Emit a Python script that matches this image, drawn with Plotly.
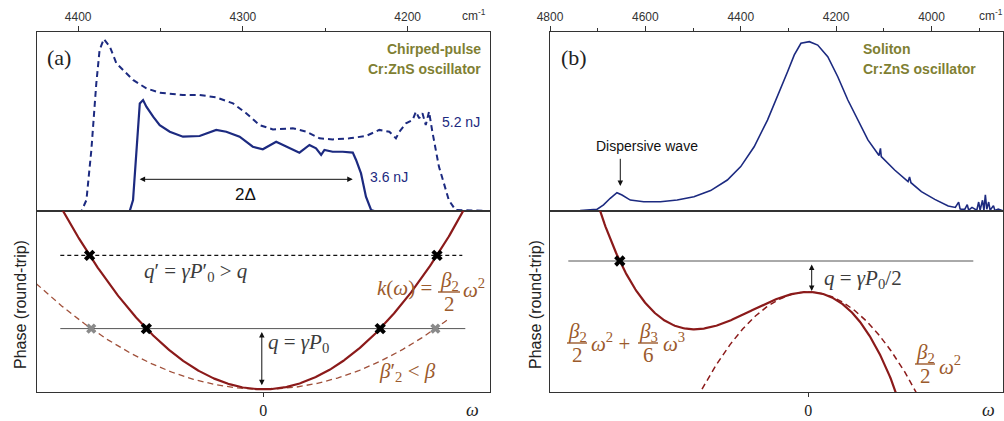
import numpy as np
import plotly.graph_objects as go

W, H = 1004, 421

# ---------------- data ----------------
# (a) chirped-pulse spectra, wavenumber (cm^-1) vs. normalised intensity
wn_a_52 = [4425, 4398, 4395, 4392, 4389, 4387, 4384.4, 4380.8, 4376.8, 4370.7, 4366.7, 4358.6,
           4350.5, 4336.4, 4326.3, 4316.2, 4306, 4298, 4289.9, 4281.8, 4269.7, 4261.6, 4253.5,
           4245.5, 4235.4, 4225.3, 4217.2, 4211.1, 4207.1, 4205, 4201, 4197, 4195, 4193, 4191,
           4189, 4187, 4185, 4183, 4181, 4178, 4175, 4171, 4150]
sp_a_52 = [0, 0, 0.061, 0.341, 0.713, 0.9, 0.961, 0.918, 0.825, 0.769, 0.732, 0.685,
           0.661, 0.648, 0.648, 0.635, 0.601, 0.546, 0.480, 0.456, 0.462, 0.443, 0.406,
           0.400, 0.406, 0.419, 0.453, 0.443, 0.406, 0.443, 0.490, 0.508, 0.555, 0.518, 0.546,
           0.480, 0.555, 0.443, 0.341, 0.248, 0.155, 0.061, 0.006, 0]
wn_a_36 = [4425, 4368.7, 4366.7, 4364.6, 4362.6, 4360.6, 4358.6, 4354.5, 4350.5, 4344.4, 4336.4,
           4326.3, 4316.2, 4310.1, 4302, 4294, 4287.9, 4279.8, 4271.7, 4265.7, 4259.6, 4255.6,
           4252.5, 4250.5, 4245.5, 4239.4, 4233.3, 4231.3, 4228.3, 4225.3, 4222.2, 4220.2, 4150]
sp_a_36 = [0, 0, 0.061, 0.341, 0.601, 0.620, 0.583, 0.527, 0.480, 0.443, 0.415,
           0.419, 0.453, 0.443, 0.415, 0.359, 0.345, 0.387, 0.350, 0.326, 0.369, 0.350,
           0.313, 0.341, 0.331, 0.331, 0.326, 0.285, 0.210, 0.080, 0.006, 0, 0]

# (b) soliton spectrum
wn_b = [4800, 4736.8, 4701.8, 4687.7, 4673.7, 4659.6, 4649, 4631.6, 4603.5, 4568.4, 4533.3,
        4498.2, 4463.2, 4428.1, 4400, 4371.9, 4343.9, 4322.8, 4301.8, 4287.7, 4273.7, 4256.1,
        4238.6, 4217.5, 4196.5, 4175.4, 4154.4, 4133.3, 4110, 4107, 4105.3, 4077.2, 4049.1,
        4046, 4043, 4021.1, 3993, 3964.9, 3950, 3943, 3940, 3936.8, 3930, 3925, 3922, 3915,
        3905, 3901, 3898, 3893, 3890, 3887, 3884, 3880, 3877, 3870, 3867, 3860, 3849]
sp_b = [0, 0.002, 0.009, 0.034, 0.071, 0.102, 0.089, 0.061, 0.052, 0.052, 0.061,
        0.080, 0.114, 0.173, 0.248, 0.359, 0.508, 0.639, 0.778, 0.872, 0.937, 0.946,
        0.927, 0.862, 0.750, 0.620, 0.508, 0.397, 0.31, 0.35, 0.304, 0.229, 0.164,
        0.19, 0.158, 0.108, 0.065, 0.028, 0.02, 0.05, 0.012, 0.009, 0.01, 0.035, 0.005, 0.02,
        0.004, 0.05, 0.005, 0.06, 0.005, 0.09, 0.01, 0.05, 0.004, 0.03, 0.003, 0.01, 0]

ticks_a = [4400, 4300, 4200]
minor_a = [4350, 4250]
ticks_b = [4800, 4600, 4400, 4200, 4000]
minor_b = [4700, 4500, 4300, 4100, 3900]

# schematic phase curves (coefficients)
b2_a = 0.444        # k(w) = beta2/2 w^2
b2p_a = 0.205       # beta2' < beta2
q_a = 0.607         # q = gamma P0
qp_a = 1.34         # q' = gamma P0'
qline_a = [-2.03, 2.02]
qpline_a = [-2.03, 1.99]
dash_a_end = 1.85

phi0_b = 1.0
b2_b = -0.86
b3_b = -0.5025
q_b = 1.31
qline_b = [-2.40, 1.65]

# ---------------- style ----------------
NAVY = "#1c2a80"
DRED = "#8b1a1a"
BROWN = "#9b5a2c"
OLIVE = "#7f7f33"
GREY = "#3c3c3c"
AXC = "#333333"
SANS = "Liberation Sans, Arial, sans-serif"
SERIF = "Liberation Serif, Times New Roman, serif"


def px(x):
    return x / W


def py(y):
    return 1 - y / H


fig = go.Figure()

# spectra
fig.add_trace(go.Scatter(x=wn_a_52, y=sp_a_52, mode="lines", xaxis="x", yaxis="y",
                         line=dict(color=NAVY, width=2, dash="6px,4px"), showlegend=False))
fig.add_trace(go.Scatter(x=wn_a_36, y=sp_a_36, mode="lines", xaxis="x", yaxis="y",
                         line=dict(color=NAVY, width=2.2), showlegend=False))
fig.add_trace(go.Scatter(x=wn_b, y=sp_b, mode="lines", xaxis="x3", yaxis="y3",
                         line=dict(color=NAVY, width=1.6), showlegend=False))

# (a) phase curves
u = np.linspace(-2.3, 2.3, 400)
ud = np.linspace(-2.27, dash_a_end, 300)
fig.add_trace(go.Scatter(x=ud, y=b2p_a * ud ** 2, mode="lines", xaxis="x2", yaxis="y2",
                         line=dict(color="#a0503a", width=1.3, dash="6px,4px"), showlegend=False))
fig.add_trace(go.Scatter(x=qline_a, y=[q_a, q_a], mode="lines", xaxis="x2", yaxis="y2",
                         line=dict(color="#555555", width=1), showlegend=False))
fig.add_trace(go.Scatter(x=qpline_a, y=[qp_a, qp_a], mode="lines", xaxis="x2", yaxis="y2",
                         line=dict(color="#111111", width=1.2, dash="4px,3px"), showlegend=False))
fig.add_trace(go.Scatter(x=u, y=b2_a * u ** 2, mode="lines", xaxis="x2", yaxis="y2",
                         line=dict(color=DRED, width=2.2), showlegend=False))
wg = np.sqrt(q_a / b2p_a)
fig.add_trace(go.Scatter(x=[-wg, wg], y=[q_a, q_a], mode="markers", xaxis="x2", yaxis="y2",
                         marker=dict(symbol="x", size=9, color="#8a8a8a"), showlegend=False))
w1 = np.sqrt(q_a / b2_a)
w2 = np.sqrt(qp_a / b2_a)
fig.add_trace(go.Scatter(x=[-w1, w1, -w2, w2], y=[q_a, q_a, qp_a, qp_a], mode="markers",
                         xaxis="x2", yaxis="y2",
                         marker=dict(symbol="x", size=10, color="black"), showlegend=False))

# (b) phase curves
ub = np.linspace(-2.3, 1.2, 400)
ubd = np.linspace(-1.2, 1.2, 300)
fig.add_trace(go.Scatter(x=ubd, y=phi0_b + b2_b * ubd ** 2, mode="lines", xaxis="x4", yaxis="y4",
                         line=dict(color=DRED, width=1.5, dash="6px,4px"), showlegend=False))
fig.add_trace(go.Scatter(x=qline_b, y=[q_b, q_b], mode="lines", xaxis="x4", yaxis="y4",
                         line=dict(color="#555555", width=1), showlegend=False))
fig.add_trace(go.Scatter(x=ub, y=phi0_b + b2_b * ub ** 2 + b3_b * ub ** 3, mode="lines",
                         xaxis="x4", yaxis="y4", line=dict(color=DRED, width=2.2), showlegend=False))
roots = np.roots([b3_b, b2_b, 0, phi0_b - q_b])
rr = [r.real for r in roots if abs(r.imag) < 1e-9 and r.real < -1.0]
fig.add_trace(go.Scatter(x=rr, y=[q_b] * len(rr), mode="markers", xaxis="x4", yaxis="y4",
                         marker=dict(symbol="x", size=10, color="black"), showlegend=False))

# ---------------- axes ----------------
XA = [px(37), px(490)]
XB = [px(550), px(1003)]
YT = [py(211), py(32)]
YB = [py(392), py(211)]
common = dict(showline=True, mirror=True, linecolor=AXC, linewidth=1.2, showgrid=False,
              zeroline=False, automargin=False)
tickfont = dict(family=SANS, size=12, color="#333333")

fig.update_layout(
    width=W, height=H, autosize=False,
    margin=dict(l=0, r=0, t=0, b=0, pad=0, autoexpand=False),
    paper_bgcolor="white", plot_bgcolor="white",
    xaxis=dict(domain=XA, anchor="y", side="top", range=[4425, 4150], tickvals=ticks_a,
               ticks="outside", ticklen=5, tickcolor=AXC, tickfont=tickfont,
               minor=dict(tickvals=minor_a, ticks="outside", ticklen=3, tickcolor=AXC),
               layer="below traces", **common),
    yaxis=dict(domain=YT, anchor="x", range=[0, 1], showticklabels=False, ticks="",
               layer="below traces", **common),
    xaxis2=dict(domain=XA, anchor="y2", range=[-2.263, 2.267], tickvals=[0], ticktext=["0"],
                ticks="outside", ticklen=4, tickcolor=AXC,
                tickfont=dict(family=SERIF, size=16, color="#222222"), **common),
    yaxis2=dict(domain=YB, anchor="x2", range=[-0.027, 1.783], showticklabels=False, ticks="",
                **common),
    xaxis3=dict(domain=XB, anchor="y3", side="top", range=[4800, 3850], tickvals=ticks_b,
                ticks="outside", ticklen=5, tickcolor=AXC, tickfont=tickfont,
                minor=dict(tickvals=minor_b, ticks="outside", ticklen=3, tickcolor=AXC),
                layer="below traces", **common),
    yaxis3=dict(domain=YT, anchor="x3", range=[0, 1], showticklabels=False, ticks="",
                layer="below traces", **common),
    xaxis4=dict(domain=XB, anchor="y4", range=[-2.583, 1.947], tickvals=[0], ticktext=["0"],
                ticks="outside", ticklen=4, tickcolor=AXC,
                tickfont=dict(family=SERIF, size=16, color="#222222"), **common),
    yaxis4=dict(domain=YB, anchor="x4", range=[0, 1.81], showticklabels=False, ticks="",
                **common),
)

# ---------------- text ----------------
ann = []


def txt(x, y, s, size=18, color=GREY, family=SERIF, xanchor="center", angle=0):
    ann.append(dict(xref="paper", yref="paper", x=px(x), y=py(y), text=s, showarrow=False,
                    xanchor=xanchor, yanchor="middle", textangle=angle,
                    font=dict(family=family, size=size, color=color)))


def frac(xc, y_bar, num, den, half, color=BROWN, size=21):
    txt(xc, y_bar - 11, num, size=size, color=color)
    txt(xc, y_bar + 12, den, size=size, color=color)
    fig.add_shape(type="line", xref="paper", yref="paper", x0=px(xc - half), x1=px(xc + half),
                  y0=py(y_bar), y1=py(y_bar), line=dict(color=color, width=1.4))


MS = 21  # math text size

# top axis units
txt(474, 15, "cm<sup>-1</sup>", size=12, color="#333333", family=SANS)
txt(991, 15, "cm<sup>-1</sup>", size=12, color="#333333", family=SANS)

# panel labels
txt(59, 57, "(a)", size=22, color="#222222")
txt(574, 57, "(b)", size=22, color="#222222")
txt(483, 49, "<b>Chirped-pulse</b>", size=14, color=OLIVE, family=SANS, xanchor="right")
txt(483, 69, "<b>Cr:ZnS oscillator</b>", size=14, color=OLIVE, family=SANS, xanchor="right")
txt(861, 49, "<b>Soliton</b>", size=14, color=OLIVE, family=SANS, xanchor="left")
txt(861, 69, "<b>Cr:ZnS oscillator</b>", size=14, color=OLIVE, family=SANS, xanchor="left")

# spectrum labels
txt(440, 122, "5.2 nJ", size=14, color=NAVY, family=SANS, xanchor="left")
txt(368, 177, "3.6 nJ", size=14, color=NAVY, family=SANS, xanchor="left")
txt(245, 194, "2Δ", size=17, color="#111111", family=SANS)
txt(647, 146, "Dispersive wave", size=14, color="#111111", family=SANS)

# y titles
txt(20, 305, "Phase (round-trip)", size=16, color="#222222", family=SANS, angle=-90)
txt(535, 305, "Phase (round-trip)", size=16, color="#222222", family=SANS, angle=-90)

# omega labels
txt(472, 410, "<i>ω</i>", size=18, color="#222222")
txt(988, 410, "<i>ω</i>", size=18, color="#222222")

# (a) math labels
txt(196, 272, "<i>q</i>′ = <i>γP</i>′<sub>0</sub> > <i>q</i>", size=MS, color=GREY)
txt(266, 343, "<i>q</i> = <i>γP</i><sub>0</sub>", size=MS, color=GREY, xanchor="left")
txt(407, 372, "<i>β</i>′<sub>2</sub> < <i>β</i>", size=MS, color=BROWN)
txt(434, 288, "<i>k</i>(<i>ω</i>) =", size=MS, color=BROWN, xanchor="right")
frac(449, 292, "<i>β</i><sub>2</sub>", "2", 11)
txt(461, 288, "<i>ω</i><sup>2</sup>", size=MS, color=BROWN, xanchor="left")

# (b) math labels
txt(822, 279, "<i>q</i> = <i>γP</i><sub>0</sub>/2", size=MS, color=GREY, xanchor="left")
frac(577, 343, "<i>β</i><sub>2</sub>", "2", 10)
txt(589, 342, "<i>ω</i><sup>2</sup> +", size=MS, color=BROWN, xanchor="left")
frac(648, 343, "<i>β</i><sub>3</sub>", "6", 10)
txt(661, 342, "<i>ω</i><sup>3</sup>", size=MS, color=BROWN, xanchor="left")
frac(925, 364, "<i>β</i><sub>2</sub>", "2", 10)
txt(937, 365, "<i>ω</i><sup>2</sup>", size=MS, color=BROWN, xanchor="left")

# arrows (data coordinates)
arrow = dict(showarrow=True, text="", arrowcolor="#111111", arrowwidth=1, arrowsize=1.1,
             standoff=0, startstandoff=0)
ann.append(dict(xref="x", yref="y", axref="x", ayref="y", x=4233.3, y=0.177, ax=4363.6,
                ay=0.177, arrowhead=2, startarrowhead=2, arrowside="end+start", **arrow))
ann.append(dict(xref="x2", yref="y2", axref="x2", ayref="y2", x=-0.015, y=0.04, ax=-0.015,
                ay=q_a - 0.02, arrowhead=2, startarrowhead=2, arrowside="end+start", **arrow))
ann.append(dict(xref="x4", yref="y4", axref="x4", ayref="y4", x=0.034, y=phi0_b + 0.01,
                ax=0.034, ay=q_b - 0.02, arrowhead=2, startarrowhead=2, arrowside="end+start",
                **arrow))
ann.append(dict(xref="x3", yref="y3", axref="x3", ayref="y3", x=4652.6, y=0.14, ax=4652.6,
                ay=0.30, arrowhead=2, **arrow))

fig.update_layout(annotations=ann)
fig.write_html("out.html")
